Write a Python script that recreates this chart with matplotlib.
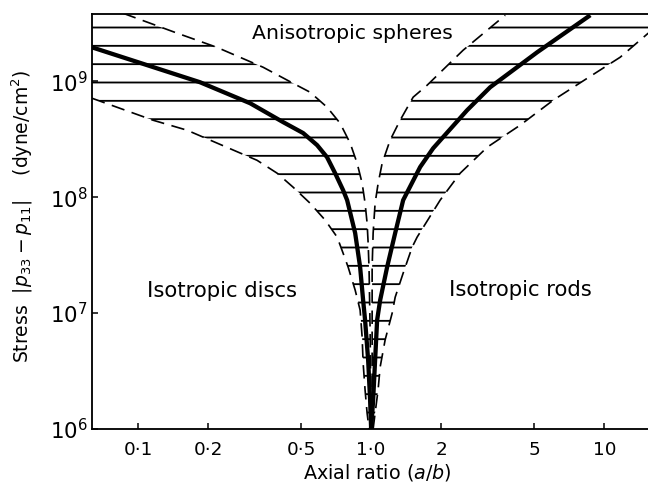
import matplotlib
matplotlib.use("Agg")
import matplotlib.pyplot as plt
from matplotlib.ticker import FixedLocator, FixedFormatter, NullLocator

plt.rcParams['font.family'] = ['DejaVu Sans']
plt.rcParams['hatch.linewidth'] = 1.2
plt.rcParams['mathtext.fontset'] = 'dejavusans'

# ---- data ----
# thick curve, discs (a/b < 1)
disc_x = [0.0635, 0.1845, 0.3025, 0.419, 0.511, 0.5865, 0.647, 0.7006, 0.758, 0.789,
          0.854, 0.897, 0.924, 0.942, 0.971, 0.990, 1.0]
disc_y = [1.96e9, 9.8e8, 6.46e8, 4.44e8, 3.57e8, 2.81e8, 2.21e8, 1.61e8, 1.15e8, 9.42e7,
          4.9e7, 2.49e7, 1.29e7, 8.7e6, 3.93e6, 1.78e6, 1.0e6]

# thick curve, rods (a/b > 1)
rod_x = [1.0, 1.02, 1.04, 1.061, 1.093, 1.171, 1.268, 1.372, 1.623, 1.845,
         2.58, 3.24, 5.16, 8.71]
rod_y = [1.0e6, 1.78e6, 3.93e6, 8.7e6, 1.29e7, 2.49e7, 4.9e7, 9.42e7, 1.82e8, 2.64e8,
         5.62e8, 8.87e8, 1.78e9, 3.71e9]

# dashed boundaries of the disc band
disc_upper_x = [0.0862, 0.147, 0.218, 0.344, 0.4625, 0.547, 0.647, 0.736, 0.813, 0.871,
                0.915, 0.942, 0.961, 0.971, 0.980, 0.990, 1.0]
disc_upper_y = [3.86e9, 2.6e9, 1.96e9, 1.32e9, 9.6e8, 8.04e8, 5.97e8, 4.34e8, 2.92e8, 1.96e8,
                1.32e8, 8.87e7, 5.97e7, 4.01e7, 2.35e7, 7.13e6, 1.0e6]

disc_lower_x = [0.0635, 0.116, 0.1623, 0.324, 0.395, 0.4625, 0.547, 0.635, 0.715, 0.758,
                0.797, 0.854, 0.897, 0.915, 0.924, 0.942, 0.961, 0.980]
disc_lower_y = [7.13e8, 4.61e8, 3.78e8, 2.08e8, 1.61e8, 1.22e8, 8.87e7, 6.34e7, 4.52e7, 3.29e7,
                2.49e7, 1.58e7, 1.06e7, 6.21e6, 3.71e6, 2.17e6, 1.37e6, 1.0e6]

# dashed boundaries of the rod band
rod_inner_x = [1.01, 1.01, 1.01, 1.02, 1.04, 1.072, 1.115, 1.206, 1.332, 1.514, 1.74, 2.48, 3.76]
rod_inner_y = [1.0e6, 7.13e6, 2.49e7, 4.9e7, 8.87e7, 1.32e8, 1.96e8, 3.1e8, 4.61e8, 7.28e8,
               9.25e8, 1.85e9, 3.71e9]

rod_outer_x = [1.02, 1.04, 1.071, 1.093, 1.148, 1.231, 1.268, 1.372, 1.5, 1.575, 1.977, 2.41,
               3.15, 4.36, 6.04, 8.45, 11.7, 15.45]
rod_outer_y = [1.0e6, 1.37e6, 2.17e6, 3.42e6, 5.85e6, 1.0e7, 1.37e7, 2.21e7, 3.71e7, 4.52e7,
               9.42e7, 1.61e8, 2.7e8, 4.18e8, 6.86e8, 1.06e9, 1.61e9, 2.6e9]

x_ticks = [0.1, 0.2, 0.5, 1.0, 2, 5, 10]
x_tick_labels = ["0·1", "0·2", "0·5", "1·0", "2", "5", "10"]
y_ticks = [1e6, 1e7, 1e8, 1e9]
y_tick_labels = [r"$10^{6}$", r"$10^{7}$", r"$10^{8}$", r"$10^{9}$"]

x_lim = (0.0635, 15.4)
y_lim = (1.0e6, 3.8e9)

# ---- figure ----
DPI = 110
fig = plt.figure(figsize=(648 / DPI, 484 / DPI), dpi=DPI)
ax = fig.add_axes([92 / 648, 55 / 484, 556 / 648, 415 / 484])
ax.set_xscale('log')
ax.set_yscale('log')
ax.set_xlim(*x_lim)
ax.set_ylim(*y_lim)

# hatched bands
left_poly_x = disc_lower_x + disc_upper_x[::-1] + [x_lim[0]]
left_poly_y = disc_lower_y + disc_upper_y[::-1] + [y_lim[1] * 1.3]
ax.fill(left_poly_x, left_poly_y, facecolor='none', edgecolor='black',
        hatch='-', linewidth=0)
right_poly_x = rod_inner_x + [rod_inner_x[-1], x_lim[1] * 1.3, x_lim[1] * 1.3] + rod_outer_x[::-1]
right_poly_y = rod_inner_y + [y_lim[1] * 1.3, y_lim[1] * 1.3, rod_outer_y[-1]] + rod_outer_y[::-1]
ax.fill(right_poly_x, right_poly_y, facecolor='none', edgecolor='black',
        hatch='-', linewidth=0)

dash = (0, (8, 4.5))
for xs, ys in [(disc_upper_x, disc_upper_y), (disc_lower_x, disc_lower_y),
               (rod_inner_x, rod_inner_y), (rod_outer_x, rod_outer_y)]:
    ax.plot(xs, ys, color='black', lw=1.1, linestyle=dash)

ax.plot(disc_x, disc_y, color='black', lw=2.8, solid_capstyle='butt', solid_joinstyle='round')
ax.plot(rod_x, rod_y, color='black', lw=2.8, solid_capstyle='butt', solid_joinstyle='round')

# ticks
ax.xaxis.set_major_locator(FixedLocator(x_ticks))
ax.xaxis.set_major_formatter(FixedFormatter(x_tick_labels))
ax.xaxis.set_minor_locator(NullLocator())
ax.yaxis.set_major_locator(FixedLocator(y_ticks))
ax.yaxis.set_major_formatter(FixedFormatter(y_tick_labels))
ax.yaxis.set_minor_locator(NullLocator())
ax.tick_params(axis='x', direction='in', length=4, width=1.0, labelsize=12, pad=8)
ax.tick_params(axis='y', direction='in', length=4, width=1.0, labelsize=14, pad=3)

for s in ['left', 'bottom', 'top']:
    ax.spines[s].set_linewidth(1.2)
ax.spines['right'].set_visible(False)

ax.set_xlabel(r"Axial ratio ($a/b$)", fontsize=12.5)
ax.xaxis.set_label_coords(0.5126, -0.080)
ax.set_ylabel(r"Stress  $|p_{33}-p_{11}|$    (dyne/cm$^2$)", fontsize=12.3)
ax.yaxis.set_label_coords(-0.1025, 0.513)

ax.text(0.829, 2.6e9, "Anisotropic spheres", fontsize=13.3, ha='center', va='center')
ax.text(0.2295, 1.55e7, "Isotropic discs", fontsize=13.8, ha='center', va='center')
ax.text(4.36, 1.58e7, "Isotropic rods", fontsize=13.8, ha='center', va='center')

fig.savefig("out.png", dpi=DPI)
